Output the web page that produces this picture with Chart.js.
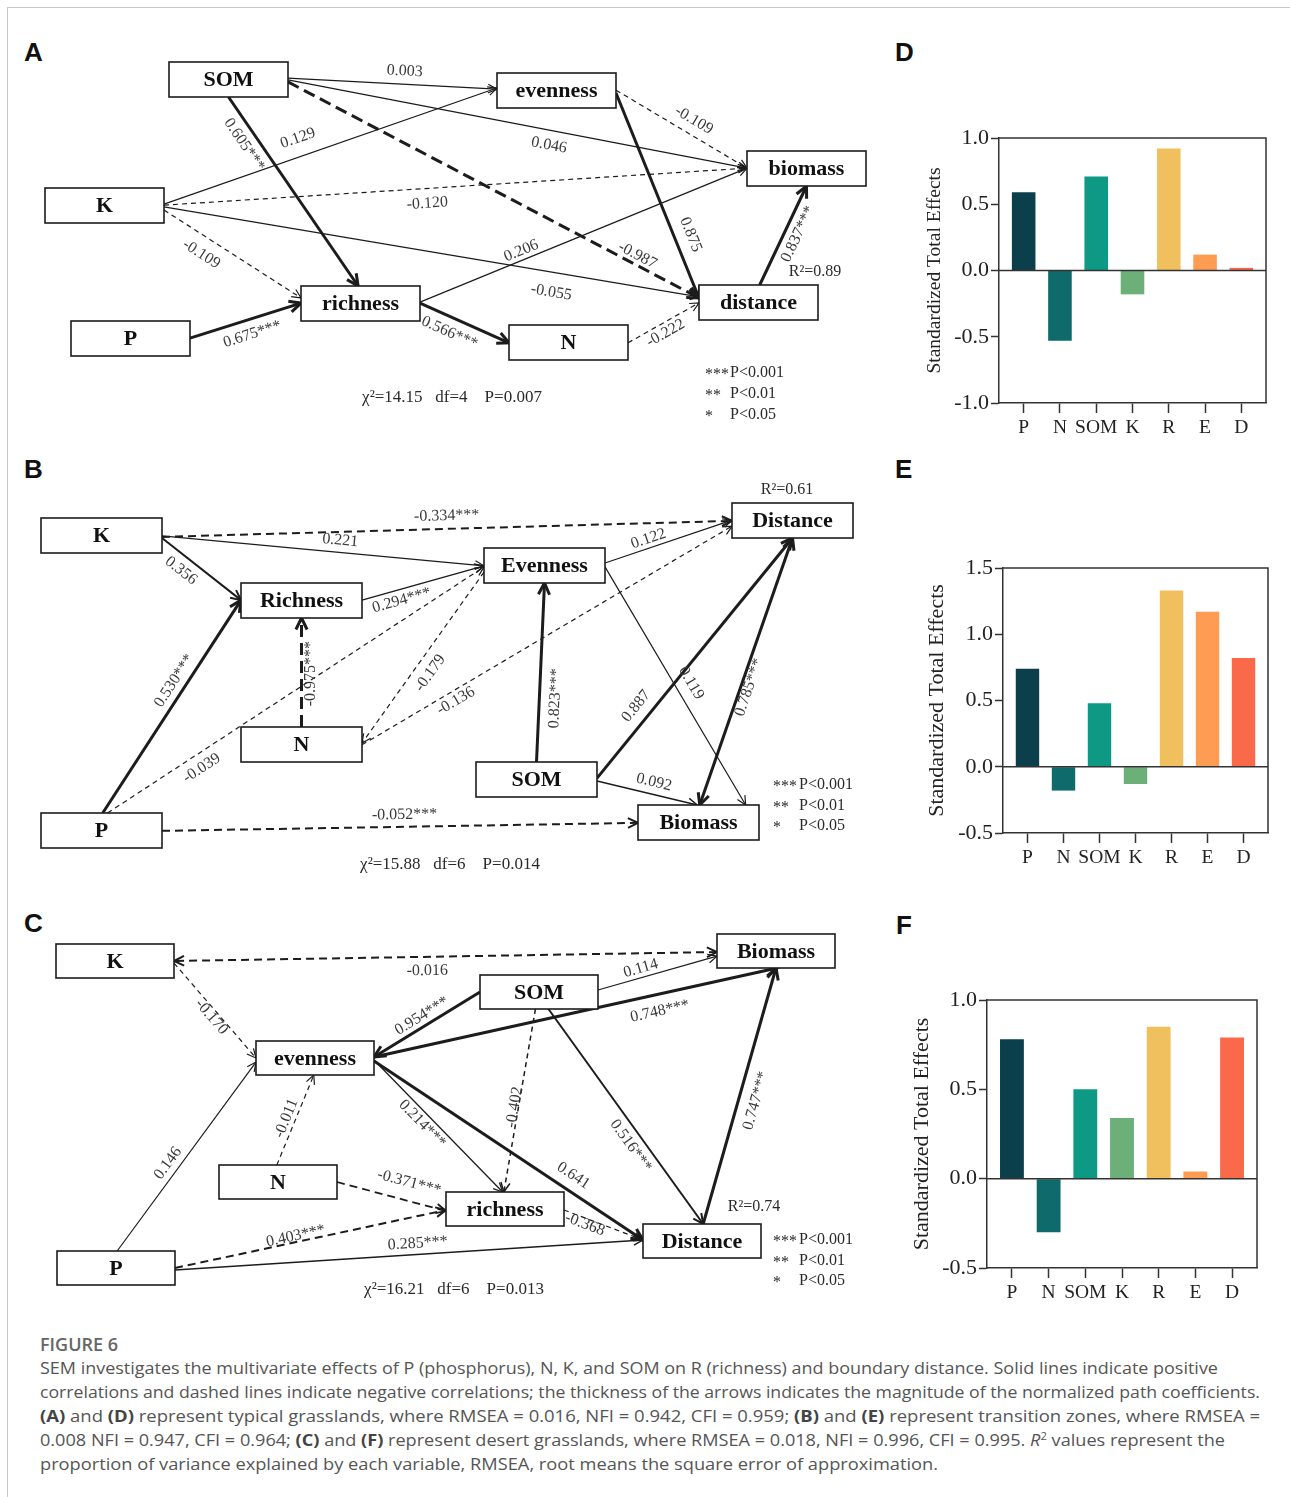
<!DOCTYPE html>
<html>
<head>
<meta charset="utf-8">
<title>SEM paths and standardized total effects</title>
<script src="https://cdn.jsdelivr.net/npm/chart.js@4.4.1/dist/chart.umd.min.js"></script>
<style>
  html, body { margin: 0; padding: 0; background: #fff; }
  body { position: relative; width: 1290px; height: 1497px; overflow: hidden; }
  .frame { position: absolute; left: 7px; top: 7px; width: 1283px; height: 1490px;
           border-top: 1px solid #c9c9c9; border-left: 1px solid #c9c9c9; }
  canvas { position: absolute; }
  .tag { position: absolute; font: bold 26px "Liberation Sans", Arial, sans-serif;
         line-height: 26px; color: #111; }
  .caption { position: absolute; left: 40px; top: 1332px; font-family: "Open Sans", "Noto Sans", sans-serif; color: #555; }
  .caption .fig { font-size: 18px; font-weight: 600; line-height: 24px; color: #666; }
  .caption .line { display: block; white-space: nowrap; font-size: 16px; line-height: 24px; height: 24px; }
  .caption .line span { display: inline-block; transform-origin: 0 50%; }
  .caption sup { font-size: 10px; line-height: 0; vertical-align: 6px; }
  .caption b { color: #444; }
</style>
</head>
<body>
<div class="frame"></div>

<div class="tag" style="left:24px;top:39px">A</div>
<div class="tag" style="left:24px;top:456px">B</div>
<div class="tag" style="left:24px;top:910px">C</div>
<div class="tag" style="left:895px;top:39px">D</div>
<div class="tag" style="left:895px;top:456px">E</div>
<div class="tag" style="left:896px;top:912px">F</div>

<canvas id="semA"></canvas>
<canvas id="semB"></canvas>
<canvas id="semC"></canvas>
<canvas id="effD"></canvas>
<canvas id="effE"></canvas>
<canvas id="effF"></canvas>

<div class="caption">
  <div class="fig">FIGURE 6</div>
  <div class="line"><span data-w="1178">SEM investigates the multivariate effects of P (phosphorus), N, K, and SOM on R (richness) and boundary distance. Solid lines indicate positive</span></div>
  <div class="line"><span data-w="1220">correlations and dashed lines indicate negative correlations; the thickness of the arrows indicates the magnitude of the normalized path coefficients.</span></div>
  <div class="line"><span data-w="1220"><b>(A)</b> and <b>(D)</b> represent typical grasslands, where RMSEA = 0.016, NFI = 0.942, CFI = 0.959; <b>(B)</b> and <b>(E)</b> represent transition zones, where RMSEA =</span></div>
  <div class="line"><span data-w="1185">0.008 NFI = 0.947, CFI = 0.964; <b>(C)</b> and <b>(F)</b> represent desert grasslands, where RMSEA = 0.018, NFI = 0.996, CFI = 0.995. <i>R</i><sup>2</sup> values represent the</span></div>
  <div class="line"><span data-w="898">proportion of variance explained by each variable, RMSEA, root means the square error of approximation.</span></div>
</div>

<script>
// ---- data ----
const effectLabels = ['P', 'N', 'SOM', 'K', 'R', 'E', 'D'];
const totalEffectsD = [0.59, -0.53, 0.71, -0.18, 0.92, 0.12, 0.02];
const totalEffectsE = [0.74, -0.18, 0.48, -0.13, 1.33, 1.17, 0.82];
const totalEffectsF = [0.78, -0.30, 0.50, 0.34, 0.85, 0.04, 0.79];
const ticksD = [-1.0, -0.5, 0.0, 0.5, 1.0];
const ticksE = [-0.5, 0.0, 0.5, 1.0, 1.5];
const ticksF = [-0.5, 0.0, 0.5, 1.0];

const nodesA = ['SOM', 'evenness', 'K', 'biomass', 'richness', 'distance', 'P', 'N'];
const nodesB = ['K', 'Richness', 'N', 'P', 'Distance', 'Evenness', 'SOM', 'Biomass'];
const nodesC = ['K', 'evenness', 'N', 'P', 'Biomass', 'SOM', 'richness', 'Distance'];

// path coefficients: [from, to, coefficient, significance]
const pathsA = [
  ['SOM', 'evenness', 0.003, ''],
  ['SOM', 'biomass', 0.046, ''],
  ['SOM', 'distance', -0.987, ''],
  ['SOM', 'richness', 0.605, '***'],
  ['K', 'evenness', 0.129, ''],
  ['K', 'biomass', -0.120, ''],
  ['K', 'distance', -0.055, ''],
  ['K', 'richness', -0.109, ''],
  ['P', 'richness', 0.675, '***'],
  ['richness', 'biomass', 0.206, ''],
  ['richness', 'N', 0.566, '***'],
  ['evenness', 'biomass', -0.109, ''],
  ['evenness', 'distance', 0.875, ''],
  ['N', 'distance', -0.222, ''],
  ['distance', 'biomass', 0.837, '***']
];
const pathsB = [
  ['K', 'Distance', -0.334, '***'],
  ['K', 'Evenness', 0.221, ''],
  ['K', 'Richness', 0.356, ''],
  ['Richness', 'Evenness', 0.294, '***'],
  ['N', 'Richness', -0.975, '***'],
  ['P', 'Richness', 0.530, '***'],
  ['P', 'Evenness', -0.039, ''],
  ['Evenness', 'N', -0.179, ''],
  ['N', 'Distance', -0.136, ''],
  ['Evenness', 'Distance', 0.122, ''],
  ['Evenness', 'Biomass', 0.119, ''],
  ['SOM', 'Evenness', 0.823, '***'],
  ['SOM', 'Distance', 0.887, ''],
  ['SOM', 'Biomass', 0.092, ''],
  ['Distance', 'Biomass', 0.785, '***'],
  ['P', 'Biomass', -0.052, '***']
];
const pathsC = [
  ['Biomass', 'K', -0.016, ''],
  ['K', 'evenness', -0.170, ''],
  ['SOM', 'evenness', 0.954, '***'],
  ['evenness', 'Biomass', 0.748, '***'],
  ['SOM', 'Biomass', 0.114, ''],
  ['evenness', 'richness', 0.214, '***'],
  ['evenness', 'Distance', 0.641, ''],
  ['SOM', 'richness', -0.402, ''],
  ['SOM', 'Distance', 0.516, '***'],
  ['Distance', 'Biomass', 0.747, '***'],
  ['N', 'evenness', -0.011, ''],
  ['N', 'richness', -0.371, '***'],
  ['P', 'richness', 0.403, '***'],
  ['P', 'Distance', 0.285, '***'],
  ['P', 'evenness', 0.146, ''],
  ['richness', 'Distance', -0.368, '']
];

const r2A = 0.89, r2B = 0.61, r2C = 0.74;
const fitA = [14.15, 4, 0.007];
const fitB = [15.88, 6, 0.014];
const fitC = [16.21, 6, 0.013];
const sigLevels = [['***', 'P<0.001'], ['**', 'P<0.01'], ['*', 'P<0.05']];

// ---- layout ----
const SERIF = '"Liberation Serif", "Times New Roman", serif';
const INK = '#1c1c1c';
const effectColors = ['#0b3f4c', '#0f6b6b', '#0e9985', '#6caf78', '#f1c05e', '#fd9c52', '#f9694a'];

// box top-left corners in page units
const boxesA = { SOM: [169, 62], evenness: [497, 73], K: [45, 188], biomass: [747, 151],
                 richness: [301, 286], distance: [699, 285], P: [71, 321], N: [509, 325] };
const boxesB = { K: [41, 518], Richness: [241, 583], N: [241, 727], P: [41, 813],
                 Distance: [732, 503], Evenness: [484, 548], SOM: [476, 762], Biomass: [638, 805] };
const boxesC = { K: [56, 944], evenness: [256, 1041], N: [219, 1165], P: [57, 1251],
                 Biomass: [717, 934], SOM: [480, 975], richness: [446, 1192], Distance: [643, 1224] };

// per path: anchors on the boxes (fractions), label position t / offset, stroke width
const edgesA = [
  { a: [1, .46], b: [0, .46], t: .555, off: 13, w: 1.2 },
  { a: [1, .51], b: [0, .49], t: .575, off: -15, w: 1.2 },
  { a: [1, .57], b: [0, .37], t: .84, off: 9, w: 3 },
  { a: [.5, 1], b: [.48, 0], t: .21, off: -14, w: 3 },
  { a: [1, .46], b: [0, .43], t: .42, off: 18, w: 1.2 },
  { a: [1, .49], b: [0, .49], t: .45, off: -15, w: 1.2 },
  { a: [1, .54], b: [0, .34], t: .73, off: -20, w: 1.2, style: 'solid' },
  { a: [1, .63], b: [0, .34], t: .34, off: -17, w: 1.2 },
  { a: [1, .49], b: [0, .49], t: .52, off: -15, w: 3 },
  { a: [1, .46], b: [0, .49], t: .32, off: 9, w: 1.2 },
  { a: [1, .49], b: [0, .51], t: .4, off: -15, w: 3 },
  { a: [1, .49], b: [0, .49], t: .54, off: 14, w: 1.2 },
  { a: [1, .57], b: [0, .37], t: .72, off: 16, w: 3 },
  { a: [1, .51], b: [0, .51], t: .46, off: -10, w: 1.2 },
  { a: [.51, 0], b: [.5, 1], t: .57, off: -13, w: 3 }
];
const edgesB = [
  { a: [1, .54], b: [0, .51], t: .5, off: 13, w: 2 },
  { a: [1, .51], b: [0, .51], t: .55, off: 12, w: 1.2 },
  { a: [1, .57], b: [0, .49], t: .35, off: -14, w: 2 },
  { a: [1, .49], b: [0, .51], t: .3, off: -11, w: 1.5 },
  { a: [.5, 0], b: [.5, 1], t: .49, off: -9, w: 3 },
  { a: [.51, 0], b: [0, .49], t: .59, off: 12, w: 3 },
  { a: [.55, 0], b: [0, .54], t: .23, off: -14, w: 1.2 },
  { a: [0, .69], b: [1, .46], t: .54, off: -15, w: 1.2 },
  { a: [1, .51], b: [0, .66], t: .24, off: -10, w: 1.2 },
  { a: [1, .43], b: [0, .49], t: .365, off: 9, w: 1.2 },
  { a: [1, .54], b: [.89, 0], t: .52, off: 15, w: 1.2 },
  { a: [.5, 0], b: [.5, 1], t: .36, off: -16, w: 3 },
  { a: [1, .46], b: [.5, 1], t: .26, off: 15, w: 3 },
  { a: [1, .54], b: [.49, 0], t: .54, off: 12, w: 1.5 },
  { a: [.5, 1], b: [.51, 0], t: .55, off: -8, w: 3, both: true },
  { a: [1, .51], b: [0, .51], t: .51, off: 12, w: 2 }
];
const edgesC = [
  { a: [0, .53], b: [1, .5], t: .534, off: -14, w: 2, both: true },
  { a: [1, .56], b: [0, .5], t: .52, off: -7, w: 1.2 },
  { a: [0, .5], b: [1, .47], t: .5, off: 10, w: 3 },
  { a: [1, .47], b: [.51, 1], t: .7, off: -17, w: 3 },
  { a: [1, .44], b: [0, .65], t: .38, off: 9, w: 1.2 },
  { a: [1, .56], b: [.48, 0], t: .43, off: -10, w: 1.3 },
  { a: [1, .59], b: [0, .47], t: .71, off: 15, w: 3 },
  { a: [.47, 1], b: [.49, 0], t: .54, off: 4, w: 1.5 },
  { a: [.58, 1], b: [.51, 0], t: .6, off: -13, w: 2 },
  { a: [.51, 0], b: [.5, 1], t: .5, off: -17, w: 3 },
  { a: [.49, 0], b: [.49, 1], t: .48, off: 9, w: 1.2 },
  { a: [1, .5], b: [0, .56], t: .62, off: 18, w: 1.8 },
  { a: [1, .5], b: [0, .53], t: .45, off: 6, w: 2, style: 'dashed' },
  { a: [1, .56], b: [0, .47], t: .52, off: 11, w: 1.5 },
  { a: [.51, 0], b: [0, .62], t: .43, off: 11, w: 1.2 },
  { a: [1, .53], b: [0, .47], t: .29, off: -6, w: 1.2 }
];

const notesA = { r2: [815, 272], fit: [452, 398], sig: [705, 730, 373, 21] };
const notesB = { r2: [787, 490], fit: [450, 865], sig: [773, 799, 785, 20.5] };
const notesC = { r2: [754, 1207], fit: [454, 1290], sig: [773, 799, 1240, 20.5] };

function dashFor(w) {
  if (w >= 3) return [12, 6];
  if (w >= 1.8) return [8, 5];
  return [5, 4];
}

function arrowHead(ctx, from, to, w) {
  const ang = Math.atan2(to[1] - from[1], to[0] - from[0]);
  const len = 8 + w * 1.6, spread = 0.45;
  ctx.setLineDash([]);
  ctx.lineWidth = w;
  ctx.beginPath();
  ctx.moveTo(to[0] - len * Math.cos(ang - spread), to[1] - len * Math.sin(ang - spread));
  ctx.lineTo(to[0], to[1]);
  ctx.lineTo(to[0] - len * Math.cos(ang + spread), to[1] - len * Math.sin(ang + spread));
  ctx.stroke();
}

// draws boxes, arrows and coefficient labels on top of the (invisible) scatter scales
function semPlugin(spec) {
  return {
    id: 'sem',
    afterDatasetsDraw(chart) {
      const ctx = chart.ctx;
      const sx = v => chart.scales.x.getPixelForValue(v);
      const sy = v => chart.scales.y.getPixelForValue(v);
      const [bw, bh] = spec.size;
      const anchor = (name, f) => {
        const [l, t] = spec.boxes[name];
        return [sx(l + f[0] * bw), sy(t + f[1] * bh)];
      };
      ctx.save();
      ctx.strokeStyle = INK;
      ctx.lineCap = 'butt';

      const segs = spec.paths.map(([from, to, coef, sig], i) => {
        const e = spec.edges[i];
        return { p0: anchor(from, e.a), p1: anchor(to, e.b), coef, sig, e };
      });

      segs.forEach(({ p0, p1, coef, e }) => {
        const dashed = e.style ? e.style === 'dashed' : coef < 0;
        ctx.lineWidth = e.w;
        ctx.setLineDash(dashed ? dashFor(e.w) : []);
        ctx.beginPath();
        ctx.moveTo(p0[0], p0[1]);
        ctx.lineTo(p1[0], p1[1]);
        ctx.stroke();
        arrowHead(ctx, p0, p1, e.w);
        if (e.both) arrowHead(ctx, p1, p0, e.w);
      });

      // variable boxes
      ctx.setLineDash([]);
      ctx.textAlign = 'center';
      ctx.textBaseline = 'middle';
      spec.nodes.forEach(name => {
        const [l, t] = spec.boxes[name];
        const x0 = sx(l), y0 = sy(t), x1 = sx(l + bw), y1 = sy(t + bh);
        ctx.fillStyle = '#fff';
        ctx.fillRect(x0, y0, x1 - x0, y1 - y0);
        ctx.lineWidth = 1.6;
        ctx.strokeRect(x0, y0, x1 - x0, y1 - y0);
        ctx.fillStyle = '#111';
        ctx.font = 'bold 22px ' + SERIF;
        ctx.fillText(name, (x0 + x1) / 2, (y0 + y1) / 2 + 1);
      });

      // coefficient labels, rotated along their path
      ctx.fillStyle = '#3a3a3a';
      ctx.font = '16px ' + SERIF;
      segs.forEach(({ p0, p1, coef, sig, e }) => {
        let ang = Math.atan2(p1[1] - p0[1], p1[0] - p0[0]);
        if (ang > Math.PI / 2 + 1e-6) ang -= Math.PI;
        else if (ang < -Math.PI / 2 - 1e-6) ang += Math.PI;
        const cx = p0[0] + e.t * (p1[0] - p0[0]) + e.off * Math.sin(ang);
        const cy = p0[1] + e.t * (p1[1] - p0[1]) - e.off * Math.cos(ang);
        ctx.save();
        ctx.translate(cx, cy);
        ctx.rotate(ang);
        ctx.fillText(coef.toFixed(3) + sig, 0, 0);
        ctx.restore();
      });

      // R², model fit and significance key
      const n = spec.notes;
      ctx.fillStyle = '#2a2a2a';
      ctx.fillText('R\u00b2=' + spec.r2.toFixed(2), sx(n.r2[0]), sy(n.r2[1]));
      const [chi, df, p] = spec.fit;
      ctx.font = '17px ' + SERIF;
      ctx.fillText('\u03c7\u00b2=' + chi.toFixed(2) + '   df=' + df + '    P=' + p.toFixed(3), sx(n.fit[0]), sy(n.fit[1]));
      ctx.font = '16px ' + SERIF;
      ctx.textAlign = 'left';
      sigLevels.forEach(([stars, text], i) => {
        const y = sy(n.sig[2] + i * n.sig[3]);
        ctx.fillText(stars, sx(n.sig[0]), y + 2);
        ctx.fillText(text, sx(n.sig[1]), y);
      });
      ctx.restore();
    }
  };
}

function drawSem(id, rect, nodes, boxes, size, paths, edges, r2, fit, notes) {
  const el = document.getElementById(id);
  el.width = rect[2];
  el.height = rect[3];
  el.style.left = rect[0] + 'px';
  el.style.top = rect[1] + 'px';
  new Chart(el, {
    type: 'scatter',
    data: {
      datasets: [{
        data: nodes.map(nm => ({ x: boxes[nm][0] + size[0] / 2, y: boxes[nm][1] + size[1] / 2 })),
        pointRadius: 0
      }]
    },
    options: {
      responsive: false,
      animation: false,
      layout: { padding: 0 },
      plugins: { legend: { display: false }, tooltip: { enabled: false } },
      scales: {
        x: { type: 'linear', display: false, min: rect[0], max: rect[0] + rect[2] },
        y: { type: 'linear', display: false, reverse: true, min: rect[1], max: rect[1] + rect[3] }
      }
    },
    plugins: [semPlugin({ nodes, boxes, size, paths, edges, r2, fit, notes })]
  });
}

// top/right frame and zero line for the effect charts
const framePlugin = {
  id: 'frame',
  afterDatasetsDraw(chart) {
    const { ctx, chartArea: a } = chart;
    const y0 = chart.scales.y.getPixelForValue(0);
    ctx.save();
    ctx.strokeStyle = '#333';
    ctx.lineWidth = 1.5;
    ctx.beginPath();
    ctx.moveTo(a.left, a.top);
    ctx.lineTo(a.right, a.top);
    ctx.lineTo(a.right, a.bottom);
    ctx.moveTo(a.left, y0);
    ctx.lineTo(a.right, y0);
    ctx.stroke();
    ctx.restore();
  }
};

function drawEffects(id, rect, values, ticks, ax) {
  const el = document.getElementById(id);
  el.width = rect[2];
  el.height = rect[3];
  el.style.left = rect[0] + 'px';
  el.style.top = rect[1] + 'px';
  new Chart(el, {
    type: 'bar',
    data: {
      datasets: [{
        data: values.map((v, i) => ({ x: i, y: v })),
        backgroundColor: effectColors,
        barPercentage: 0.65,
        categoryPercentage: 1
      }]
    },
    options: {
      responsive: false,
      animation: false,
      layout: { padding: { top: ax.padTop, right: ax.padRight, left: 0, bottom: 0 } },
      plugins: { legend: { display: false }, tooltip: { enabled: false } },
      scales: {
        x: {
          type: 'linear',
          offset: false,
          min: -0.68,
          max: effectLabels.length - 0.32,
          afterBuildTicks: s => { s.ticks = effectLabels.map((_, i) => ({ value: i })); },
          afterFit: s => { s.height = 47; },
          ticks: {
            callback: v => effectLabels[v],
            autoSkip: false, maxRotation: 0, padding: 3,
            color: '#222', font: { family: SERIF, size: 19.5 }
          },
          grid: { drawOnChartArea: false, offset: false, tickLength: 10, tickColor: '#333', tickWidth: 1.5 },
          border: { color: '#333', width: 1.5 }
        },
        y: {
          min: ticks[0],
          max: ticks[ticks.length - 1],
          afterBuildTicks: s => { s.ticks = ticks.map(v => ({ value: v })); },
          afterFit: s => { s.width = ax.yWidth; },
          ticks: {
            callback: v => Number(v).toFixed(1),
            padding: 2, color: '#222', font: { family: SERIF, size: 22 }
          },
          title: {
            display: true, text: 'Standardized Total Effects', color: '#222',
            font: { family: SERIF, size: ax.titleSize }, padding: { top: ax.titlePad, bottom: 0 }
          },
          grid: { drawOnChartArea: false, tickLength: 8, tickColor: '#333', tickWidth: 1.5 },
          border: { color: '#333', width: 1.5 }
        }
      }
    },
    plugins: [framePlugin]
  });
}

drawSem('semA', [20, 40, 865, 400], nodesA, boxesA, [119, 35], pathsA, edgesA, r2A, fitA, notesA);
drawSem('semB', [20, 478, 865, 407], nodesB, boxesB, [121, 35], pathsB, edgesB, r2B, fitB, notesB);
drawSem('semC', [20, 925, 865, 385], nodesC, boxesC, [118, 34], pathsC, edgesC, r2C, fitC, notesC);

drawEffects('effD', [913, 118, 372, 332], totalEffectsD, ticksD,
  { yWidth: 86, titleSize: 19.5, titlePad: 10, padTop: 20, padRight: 19 });
drawEffects('effE', [915, 545, 370, 335], totalEffectsE, ticksE,
  { yWidth: 88, titleSize: 22, titlePad: 9, padTop: 23, padRight: 17 });
drawEffects('effF', [898, 975, 387, 340], totalEffectsF, ticksF,
  { yWidth: 89, titleSize: 22, titlePad: 11, padTop: 25, padRight: 28 });

// stretch each caption line to its set width
document.querySelectorAll('.caption .line span').forEach(sp => {
  const w = sp.getBoundingClientRect().width;
  if (w > 0) sp.style.transform = 'scaleX(' + (Number(sp.dataset.w) / w).toFixed(4) + ')';
});
</script>
</body>
</html>
